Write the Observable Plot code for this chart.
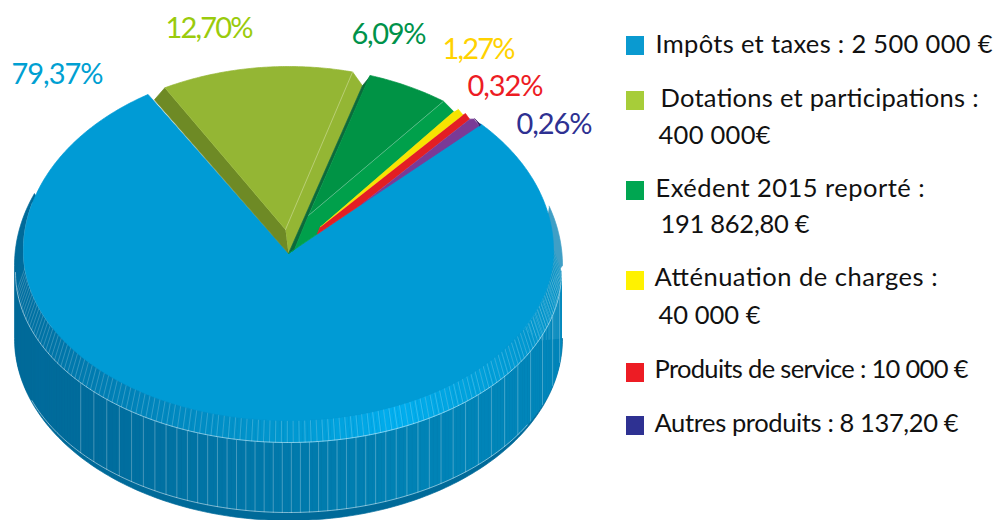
<!DOCTYPE html>
<html><head><meta charset="utf-8">
<style>html,body{margin:0;padding:0;background:#fff}svg{display:block}</style>
<script src="https://cdn.jsdelivr.net/npm/d3@7"></script>
<script src="https://cdn.jsdelivr.net/npm/@observablehq/plot@0.6"></script>
</head><body><div id="chart"></div>
<script>
// ---- chart values ----
const shares = ["79,37%","12,70%","6,09%","1,27%","0,32%","0,26%"];
const drawnSpanDeg = [285.7,45.7,21.9,2.1,2.5,2.1]; // wedge widths as drawn in the picture
const legendLines = [
  "Impôts et taxes : 2 500 000 €","Dotations et participations :","400 000€",
  "Exédent 2015 reporté :","191 862,80 €","Atténuation de charges :","40 000 €",
  "Produits de service : 10 000 €","Autres produits : 8 137,20 €"];
const labelColors = ["#00a0d2","#9acb0c","#00924a","#ffd200","#ed1c24","#2e3192"];
const legendColors = ["#0a9ad0","#a7cd39","#00a651","#fff200","#ed1c24","#2e3192"];

// ---- layout ----
const cx=288, rx=265, cy=250, ryTop=184, ryBot=170;
const apex=[288,253];
const rad=d=>d*Math.PI/180;
const P=(a,dy=0)=>{const c=Math.cos(rad(a));return [cx+rx*Math.sin(rad(a)),cy-(c>0?ryTop:ryBot)*c+dy];};
const E=(phi,ey,r=273,ry=170)=>[cx+r*Math.sin(rad(phi)),ey+ry*Math.cos(rad(phi))];
const lerp=(p,q,t)=>[p[0]+(q[0]-p[0])*t,p[1]+(q[1]-p[1])*t];
const arc=(a0,a1)=>d3.range(a0,a1,0.5).concat([a1]).map(a=>P(a));

let nid=0;
const poly=(rows,color,pts)=>{const id=nid++;pts.forEach(p=>rows.push({x:p[0],y:p[1],id,color}));};

// angles of the wedge boundaries, clockwise from 12 o'clock
const start=46.5;
const bounds=d3.cumsum(drawnSpanDeg).map(v=>start+v-360);
const [bBlue,bLight,bDark,bYellow,bRed]=bounds;

// side of the cake
const shell=[];
const upperRim=a=>[cx+274*Math.sin(rad(a)),265-192*Math.cos(rad(a))];
poly(shell,"#006a99",[
  ...d3.range(-90,90.01,1).map(ph=>E(ph,338,274,182)).reverse(),
  ...d3.range(-90,-67,1).map(upperRim),
  [90,300],[480,300],[540,340]
]);
poly(shell,"#3f9fc6",[...d3.range(72,90.01,1).map(upperRim),[535,300]]);

const sideColor=d3.scaleLinear().domain([-90,-45,0,30,90]).range(["#006a99","#006c9c","#0079ab","#0083b6","#0088bd"]);
const bevelColor=d3.scaleLinear().domain([-90,-60,-30,0,24,40,60,90]).range(["#006c9c","#0075a8","#0086bd","#0098d0","#00aeef","#00a3de","#0099d2","#0a8fc0"]);
const side=[],bevel=[];
d3.range(-90,90,1).forEach(ph=>{
  poly(side,sideColor(ph+.5),[E(ph,272),E(ph+1,272),E(ph+1,342),E(ph,342)]);
  poly(bevel,bevelColor(ph+.5),[E(ph,250,265,170),E(ph+1,250,265,170),E(ph+1,272),E(ph,272)]);
});

// facet lines
const sideLines=[],bevelLines=[],edges=[];
let ph=0.6;const sideAngles=[];
while(ph<86){sideAngles.push(ph);ph+=1.9*(1+.5*(ph/30)**2);}
ph=0.6;
while(ph>-46){ph-=1.9*(1+.5*(ph/30)**2);sideAngles.push(ph);}
sideAngles.forEach((a,i)=>[E(a,272),E(a,342)].forEach(p=>sideLines.push({x:p[0],y:p[1],id:i})));
d3.range(-84,90,1.25).forEach((a,i)=>[E(a,250,265,170),E(a,272)].forEach(p=>bevelLines.push({x:p[0],y:p[1],id:i})));
d3.range(-90,90.01,1).forEach(a=>{const p=E(a,272);edges.push({x:p[0],y:p[1],id:"bevel"});});
d3.range(-70,62,1).forEach(a=>{const p=E(a,342);edges.push({x:p[0],y:p[1],id:"low"});});
d3.range(-105,-62,1).forEach(a=>{const p=E(a,250,265,a<-90?184:170);edges.push({x:p[0],y:p[1],id:"top"});});

// top faces
const faces=[];
const lightInner=[apex[0]-3,apex[1]-24], darkInner=[apex[0]+20,apex[1]-38], darkTip=[apex[0]+6,apex[1]-4];
const lightOuter=[P(bLight-1.7)[0],P(bLight-1.7)[1]+12];
const greenOuter=[P(bDark-1.2)[0],P(bDark-1.2)[1]+5];
poly(faces,"#009bd5",[apex,...arc(start,bBlue+360-4.2),apex]);
poly(faces,"#6e8a25",[P(bBlue),[P(bBlue-2.6)[0],P(bBlue-2.6)[1]+8],apex,lightInner]);
poly(faces,"#94b634",[lightInner,...arc(bBlue,bLight-3.9),lightOuter,apex]);
poly(faces,"#0b6a3b",[P(bLight,1),lightOuter,apex,darkTip,darkInner]);
// the three narrow wedges, each resting on its neighbour
const yLow=P(bDark+1.4,3), rLow=P(bYellow+1.2,3);
const yTip=lerp(greenOuter,darkTip,.84), rTip=lerp(P(start),apex,.85), pTip=lerp(P(start),apex,.62);
poly(faces,"#00a04b",[P(bDark-4),greenOuter,yTip,rTip,apex,darkTip,darkInner]);
poly(faces,"#009345",[darkInner,...arc(bLight,bDark-4)]);
poly(faces,"#f7e400",[P(bDark),yLow,yTip,greenOuter]);
poly(faces,"#e31e24",[yLow,P(bYellow),rLow,pTip,rTip,yTip]);
poly(faces,"#7a3a96",[rLow,P(bRed),P(bRed+1.6,3),pTip]);
poly(faces,"#3a1a66",[P(bRed+.2,-1),P(bRed+2.1,1),P(bRed+1.7,3)]);

const inks=[];
[P(bLight-3.9),lightInner].forEach(p=>inks.push({x:p[0],y:p[1],id:"a",color:"#c9d88f"}));
[P(bDark-4),darkInner].forEach(p=>inks.push({x:p[0],y:p[1],id:"g",color:"#5fbf8c"}));

// ---- text tables ----
const labels=shares.map((t,i)=>({t,color:labelColors[i],
  x:[11,165,351,442,467,516][i],y:[83,37,43,58,95,133][i],w:[92,88,75,73,76,76][i]}));
const legendRows=legendLines.map((t,i)=>({t,
  x:[655,660,658,655,660,654,658,654,654][i],
  y:[52,106,143,196,232,285,323,377,431][i],
  w:[337,318,112,269,149,283,102,314,304][i]}));
const swatches=legendColors.map((color,i)=>({color,y:[36,91,181,271,363,416][i]}));

const fill=rows=>Plot.line(rows,{x:"x",y:"y",z:"id",fill:"color",stroke:"color",strokeWidth:.7});
const plot=Plot.plot({
  width:995,height:520,margin:0,
  x:{domain:[0,995],range:[0,995],axis:null},
  y:{domain:[0,520],range:[0,520],axis:null},
  color:{type:"identity"},
  style:{background:"#fff"},
  marks:[
    fill(shell),fill(side),
    Plot.line(sideLines,{x:"x",y:"y",z:"id",stroke:"#fff",strokeOpacity:.3,strokeWidth:.9}),
    fill(bevel),
    Plot.line(bevelLines,{x:"x",y:"y",z:"id",stroke:"#fff",strokeOpacity:.25,strokeWidth:.8}),
    Plot.line(edges,{x:"x",y:"y",z:"id",stroke:"#fff",strokeOpacity:.55,strokeWidth:.9}),
    fill(faces),
    Plot.line(inks,{x:"x",y:"y",z:"id",stroke:"color",strokeWidth:.7}),
    Plot.rect(swatches,{x1:()=>626,x2:()=>644,y1:"y",y2:d=>d.y+19,fill:"color"}),
    Plot.text(labels,{x:"x",y:"y",text:"t",fill:"color",textAnchor:"start",lineAnchor:"bottom",fontSize:29,fontFamily:"Lato",className:"lbl"}),
    Plot.text(legendRows,{x:"x",y:"y",text:"t",fill:"#111",textAnchor:"start",lineAnchor:"bottom",fontSize:25.5,fontFamily:"Lato",className:"leg"})
  ]
});
const sel=d3.select(plot);
sel.selectAll("g.lbl text").each(function(_,i){this.setAttribute("textLength",labels[i].w);});
sel.selectAll("g.leg text").each(function(_,i){this.setAttribute("textLength",legendRows[i].w);});
document.getElementById("chart").appendChild(plot);
</script></body></html>
